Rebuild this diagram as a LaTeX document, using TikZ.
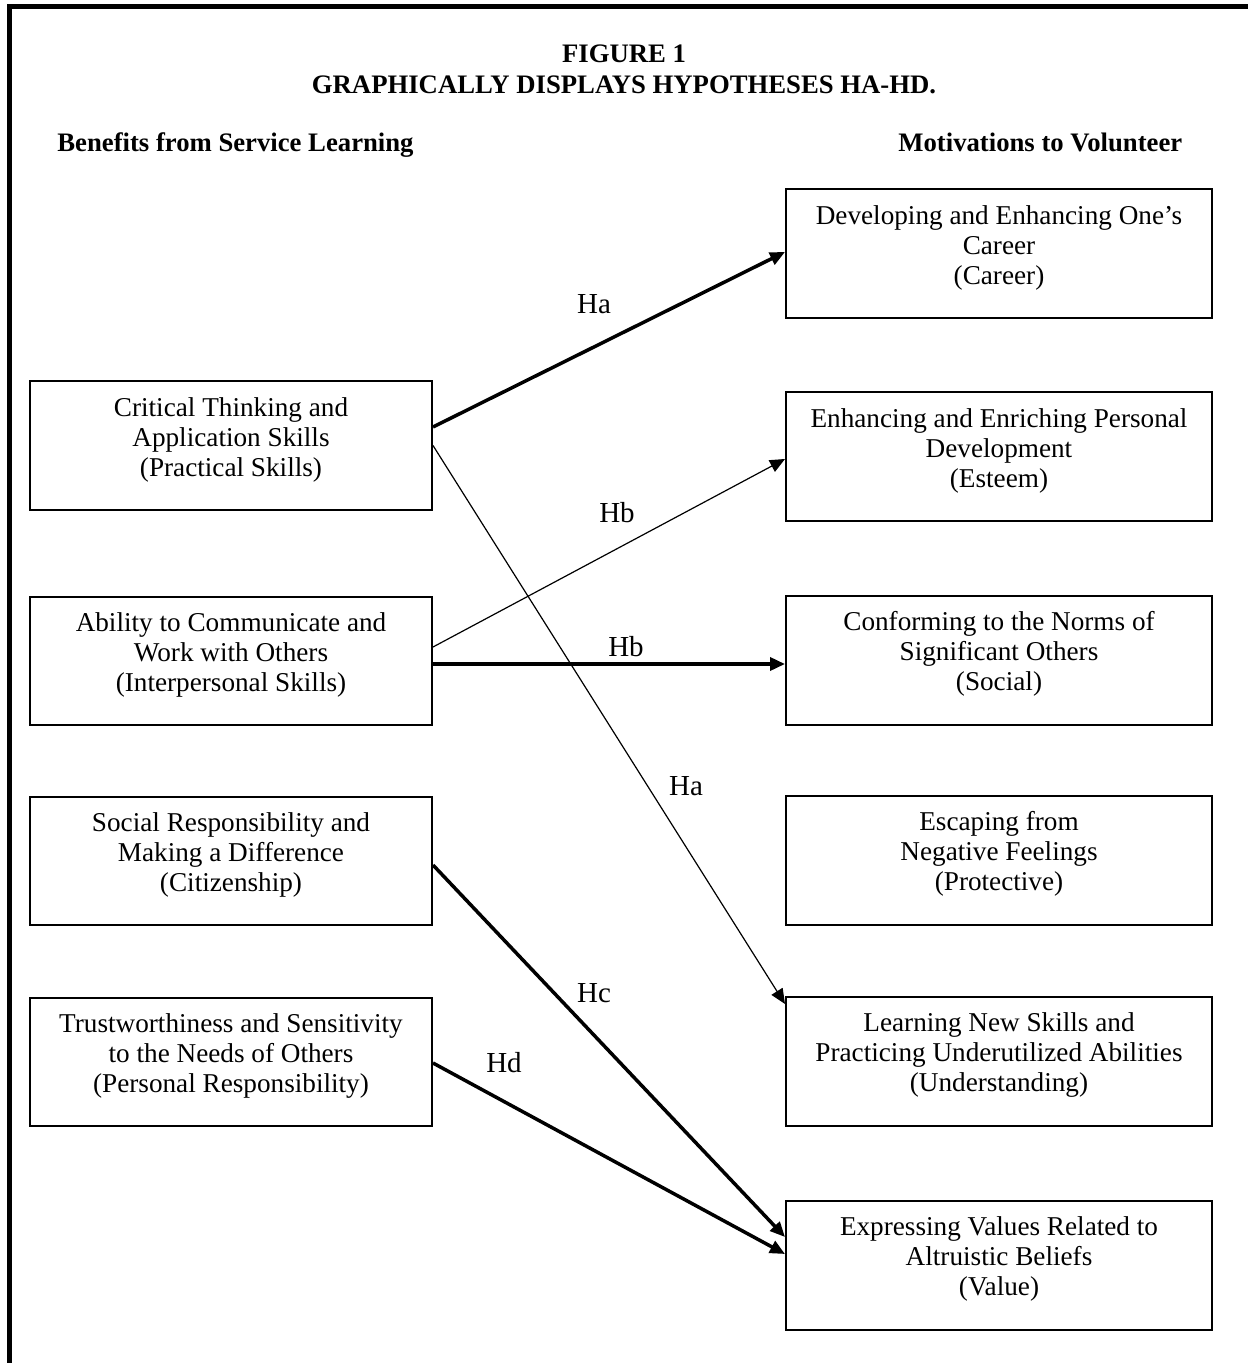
\documentclass[tikz,border=0pt]{standalone}
\usepackage{fontspec}
\setmainfont{Liberation Serif}
\usetikzlibrary{arrows.meta}
\begin{document}
\begin{tikzpicture}[x=0.5pt,y=-0.5pt,
  lbox/.style={draw, line width=1pt, minimum width=201pt, minimum height=64pt, inner sep=0pt},
  rbox/.style={draw, line width=1pt, minimum width=213pt, minimum height=64.5pt, inner sep=0pt},
  txt/.style={align=center, font=\fontsize{13.6}{15}\selectfont, inner sep=0pt},
  hdr/.style={font=\bfseries\fontsize{13.35}{15}\selectfont, inner sep=0pt},
  lab/.style={font=\fontsize{14.5}{16}\selectfont, inner sep=0pt},
  thickarrow/.style={line width=1.75pt, -{Triangle[length=7.5pt,width=6.5pt]}},
  thinarrow/.style={line width=0.6pt, -{Triangle[length=7.5pt,width=6.5pt]}},
]
\useasboundingbox (0,0) rectangle (1248,1363);
% frame
\draw[line width=2.5pt, line join=miter] (9.5,1363) -- (9.5,6.5) -- (1248,6.5);

% titles
\node[hdr, anchor=base] (t1) at (624,63) {FIGURE 1};
\node[hdr, anchor=base] (t2) at (624,94) {GRAPHICALLY DISPLAYS HYPOTHESES HA-HD.};
\node[hdr, anchor=base west] (h1) at (57,152) {Benefits from Service Learning};
\node[hdr, anchor=base west] (h2) at (898,152) {Motivations to Volunteer};

% left boxes
\node[lbox] (b1) at (231,445.5) {};
\node[lbox] (b2) at (231,660.5) {};
\node[lbox] (b3) at (231,860.5) {};
\node[lbox] (b4) at (231,1061.5) {};
\node[txt] (b1t) at ([yshift=3pt]b1.center) {Critical Thinking and\\Application Skills\\(Practical Skills)};
\node[txt] (b2t) at ([yshift=3pt]b2.center) {Ability to Communicate and\\Work with Others\\(Interpersonal Skills)};
\node[txt] (b3t) at ([yshift=3pt]b3.center) {Social Responsibility and\\Making a Difference\\(Citizenship)};
\node[txt] (b4t) at ([yshift=3pt]b4.center) {Trustworthiness and Sensitivity\\to the Needs of Others\\(Personal Responsibility)};

% right boxes
\node[rbox] (r1) at (999,253.5) {};
\node[rbox] (r2) at (999,456.5) {};
\node[rbox] (r3) at (999,660) {};
\node[rbox] (r4) at (999,860) {};
\node[rbox] (r5) at (999,1061) {};
\node[rbox] (r6) at (999,1265) {};
\node[txt] (r1t) at ([yshift=3pt]r1.center) {Developing and Enhancing One’s\\Career\\(Career)};
\node[txt] (r2t) at ([yshift=3pt]r2.center) {Enhancing and Enriching Personal\\Development\\(Esteem)};
\node[txt] (r3t) at ([yshift=3pt]r3.center) {Conforming to the Norms of\\Significant Others\\(Social)};
\node[txt] (r4t) at ([yshift=3pt]r4.center) {Escaping from\\Negative Feelings\\(Protective)};
\node[txt] (r5t) at ([yshift=3pt]r5.center) {Learning New Skills and\\Practicing Underutilized Abilities\\(Understanding)};
\node[txt] (r6t) at ([yshift=3pt]r6.center) {Expressing Values Related to\\Altruistic Beliefs\\(Value)};

% connectors
\draw[thickarrow] ([yshift=9.25pt]b1.east) -- ([yshift=0.75pt]r1.west);
\draw[thinarrow] (b1.east) -- ([yshift=28.5pt]r5.west);
\draw[thinarrow] ([yshift=6.75pt]b2.east) -- ([yshift=-1.25pt]r2.west);
\draw[thickarrow] ([yshift=-1.75pt]b2.east) -- ([yshift=-2pt]r3.west);
\draw[thickarrow] ([yshift=-2.25pt]b3.east) -- ([yshift=14pt]r6.west);
\draw[thickarrow] ([yshift=-0.75pt]b4.east) -- ([yshift=5.5pt]r6.west);

% labels
\node[lab] (la1) at (594,304) {Ha};
\node[lab] (lb1) at (617,513) {Hb};
\node[lab] (lb2) at (626,647) {Hb};
\node[lab] (la2) at (686,786) {Ha};
\node[lab] (lc) at (594,993) {Hc};
\node[lab] (ld) at (504,1063) {Hd};
\end{tikzpicture}
\end{document}
